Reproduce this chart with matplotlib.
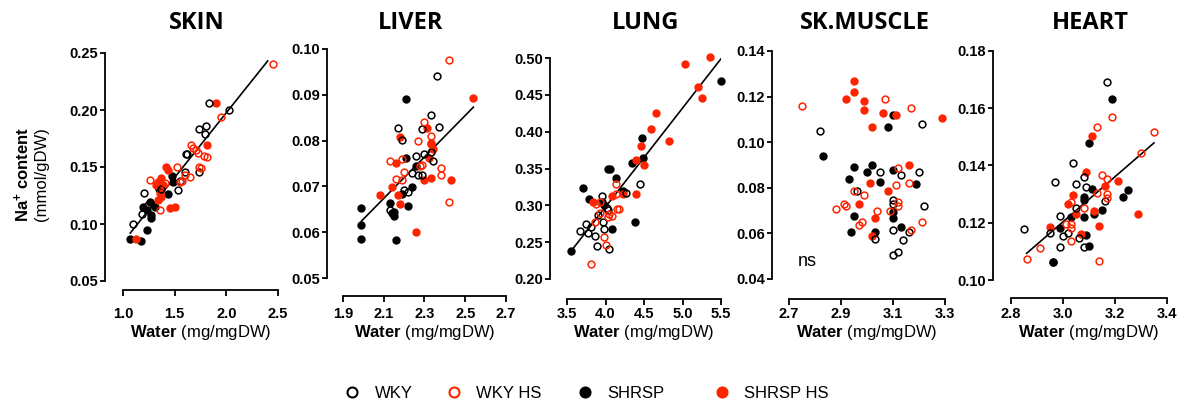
import matplotlib
matplotlib.use("Agg")
import matplotlib.pyplot as plt
from matplotlib.lines import Line2D

plt.rcParams['font.family'] = ['Liberation Sans', 'DejaVu Sans']
plt.rcParams['mathtext.fontset'] = 'custom'
plt.rcParams['mathtext.rm'] = 'Liberation Sans'
plt.rcParams['mathtext.bf'] = 'Liberation Sans:bold'
plt.rcParams['mathtext.it'] = 'Liberation Sans:italic'

RED = '#FF2400'
groups = ['WKY', 'WKY HS', 'SHRSP', 'SHRSP HS']

# ---------------- data ----------------
titles = ['SKIN', 'LIVER', 'LUNG', 'SK.MUSCLE', 'HEART']

skin_wky_x = [1.10, 1.20, 1.18, 1.24, 1.37, 1.53, 1.55, 1.61, 1.62, 1.74, 1.80, 1.79, 1.83, 2.03, 1.74, 1.60]
skin_wky_y = [0.100, 0.127, 0.109, 0.117, 0.131, 0.130, 0.138, 0.161, 0.161, 0.183, 0.186, 0.179, 0.206, 0.200, 0.146, 0.146]
skin_shrsp_x = [1.07, 1.17, 1.23, 1.19, 1.23, 1.26, 1.27, 1.27, 1.31, 1.35, 1.44, 1.47, 1.48]
skin_shrsp_y = [0.087, 0.085, 0.095, 0.115, 0.112, 0.119, 0.108, 0.105, 0.115, 0.131, 0.126, 0.142, 0.137]
skin_wkyhs_x = [1.26, 1.36, 1.41, 1.52, 1.55, 1.57, 1.60, 1.65, 1.66, 1.68, 1.71, 1.73, 1.74, 1.75, 1.78, 1.81, 1.95, 2.45]
skin_wkyhs_y = [0.139, 0.112, 0.136, 0.150, 0.137, 0.138, 0.143, 0.141, 0.169, 0.167, 0.165, 0.162, 0.150, 0.149, 0.160, 0.159, 0.194, 0.240]
skin_shrsphs_x = [1.13, 1.32, 1.34, 1.34, 1.36, 1.37, 1.37, 1.39, 1.42, 1.44, 1.45, 1.50, 1.81, 1.90]
skin_shrsphs_y = [0.087, 0.134, 0.121, 0.137, 0.127, 0.140, 0.124, 0.134, 0.150, 0.147, 0.114, 0.115, 0.169, 0.206]
skin_fit_x = [1.07, 2.40]
skin_fit_y = [0.092, 0.243]

liver_wky_x = [2.17, 2.19, 2.13, 2.20, 2.22, 2.24, 2.26, 2.27, 2.29, 2.29, 2.30, 2.33, 2.33, 2.34, 2.36, 2.37]
liver_wky_y = [0.0828, 0.0802, 0.0648, 0.0693, 0.0687, 0.0730, 0.0767, 0.0724, 0.0825, 0.0724, 0.0770, 0.0776, 0.0856, 0.0755, 0.0940, 0.0830]
liver_shrsp_x = [1.99, 1.99, 1.99, 2.13, 2.14, 2.15, 2.16, 2.21, 2.21, 2.19, 2.22, 2.24, 2.26, 2.15]
liver_shrsp_y = [0.0653, 0.0616, 0.0586, 0.0664, 0.0642, 0.0636, 0.0582, 0.0891, 0.0763, 0.0684, 0.0658, 0.0698, 0.0745, 0.0645]
liver_wkyhs_x = [2.13, 2.16, 2.19, 2.20, 2.19, 2.27, 2.28, 2.29, 2.30, 2.33, 2.33, 2.38, 2.38, 2.42, 2.42]
liver_wkyhs_y = [0.0756, 0.0717, 0.0759, 0.0732, 0.0714, 0.0800, 0.0745, 0.0746, 0.0841, 0.0793, 0.0809, 0.0740, 0.0724, 0.0667, 0.0977]
liver_shrsphs_x = [2.08, 2.14, 2.16, 2.18, 2.17, 2.18, 2.26, 2.30, 2.31, 2.32, 2.33, 2.33, 2.34, 2.43, 2.54]
liver_shrsphs_y = [0.0682, 0.0698, 0.0752, 0.0807, 0.0682, 0.0662, 0.0600, 0.0714, 0.0827, 0.0762, 0.0718, 0.0794, 0.0781, 0.0715, 0.0894]
liver_fit_x = [1.99, 2.54]
liver_fit_y = [0.0624, 0.0873]

lung_wky_x = [3.67, 3.75, 3.77, 3.81, 3.87, 3.89, 3.90, 3.95, 3.97, 3.98, 4.02, 4.03, 4.04, 4.26, 4.45]
lung_wky_y = [0.265, 0.275, 0.262, 0.271, 0.258, 0.245, 0.287, 0.313, 0.278, 0.268, 0.296, 0.294, 0.241, 0.317, 0.329]
lung_shrsp_x = [3.55, 3.71, 3.79, 3.95, 3.98, 4.03, 4.06, 4.08, 4.14, 4.23, 4.35, 4.38, 4.47, 4.49, 5.50]
lung_shrsp_y = [0.238, 0.323, 0.309, 0.305, 0.301, 0.350, 0.349, 0.268, 0.337, 0.320, 0.357, 0.278, 0.392, 0.364, 0.469]
lung_wkyhs_x = [3.81, 3.88, 3.93, 3.98, 4.01, 4.03, 4.05, 4.08, 4.13, 4.14, 4.15, 4.17, 3.87, 3.93]
lung_wkyhs_y = [0.221, 0.302, 0.289, 0.257, 0.246, 0.284, 0.288, 0.286, 0.329, 0.316, 0.295, 0.295, 0.277, 0.305]
lung_shrsphs_x = [3.84, 4.08, 4.23, 4.39, 4.39, 4.46, 4.50, 4.59, 4.66, 4.83, 5.03, 5.20, 5.25, 5.36]
lung_shrsphs_y = [0.304, 0.312, 0.315, 0.362, 0.316, 0.380, 0.355, 0.403, 0.426, 0.387, 0.492, 0.461, 0.446, 0.501]
lung_fit_x = [3.55, 5.50]
lung_fit_y = [0.2375, 0.499]

muscle_wky_x = [2.82, 2.96, 3.05, 3.10, 3.10, 3.13, 3.10, 3.10, 3.12, 3.14, 3.16, 3.03, 3.20, 3.21, 3.22]
muscle_wky_y = [0.105, 0.0788, 0.0868, 0.0747, 0.0728, 0.0856, 0.0616, 0.0506, 0.0518, 0.0569, 0.0608, 0.0576, 0.0868, 0.1079, 0.0718]
muscle_shrsp_x = [2.83, 2.93, 2.95, 2.95, 2.94, 3.00, 3.02, 3.05, 3.03, 3.10, 3.10, 3.10, 3.08, 3.10, 3.13, 3.19]
muscle_shrsp_y = [0.094, 0.0837, 0.089, 0.0678, 0.0608, 0.0869, 0.0899, 0.0827, 0.0608, 0.0878, 0.0667, 0.0692, 0.1068, 0.112, 0.0627, 0.0818]
muscle_wkyhs_x = [2.75, 2.88, 2.91, 2.92, 2.97, 2.98, 2.99, 3.04, 3.07, 3.09, 3.11, 3.12, 3.12, 3.12, 3.16, 3.17, 3.17, 3.21, 2.95]
muscle_wkyhs_y = [0.116, 0.0708, 0.0728, 0.0718, 0.0638, 0.0648, 0.0769, 0.0697, 0.119, 0.0697, 0.0813, 0.0737, 0.0718, 0.0888, 0.082, 0.1151, 0.0616, 0.0648, 0.0788]
muscle_shrsphs_x = [2.92, 2.95, 2.95, 2.99, 2.99, 3.02, 3.06, 3.11, 3.29, 2.97, 3.01, 3.03, 3.02, 3.08, 3.16]
muscle_shrsphs_y = [0.1189, 0.1269, 0.1221, 0.118, 0.114, 0.1068, 0.113, 0.1119, 0.1108, 0.0728, 0.082, 0.0667, 0.0590, 0.0788, 0.090]

heart_wky_x = [2.85, 2.95, 2.96, 2.97, 2.99, 2.99, 3.00, 3.02, 3.04, 3.05, 3.05, 3.06, 3.08, 3.08, 3.09, 3.16, 3.17]
heart_wky_y = [0.1178, 0.1163, 0.1064, 0.1343, 0.1223, 0.1114, 0.1153, 0.1163, 0.1409, 0.1335, 0.1252, 0.1145, 0.1360, 0.1114, 0.1326, 0.1277, 0.1691]
heart_shrsp_x = [2.96, 2.99, 3.03, 3.08, 3.08, 3.08, 3.09, 3.10, 3.10, 3.11, 3.12, 3.15, 3.19, 3.23, 3.25]
heart_shrsp_y = [0.1064, 0.1183, 0.1219, 0.1291, 0.1279, 0.1219, 0.1157, 0.1120, 0.1479, 0.1317, 0.1229, 0.1244, 0.1633, 0.1291, 0.1316]
heart_wkyhs_x = [2.86, 2.91, 3.01, 3.03, 3.03, 3.03, 3.03, 3.08, 3.13, 3.13, 3.14, 3.15, 3.17, 3.17, 3.17, 3.19, 3.30, 3.35]
heart_wkyhs_y = [0.1072, 0.1113, 0.1195, 0.1271, 0.1195, 0.1180, 0.1137, 0.1252, 0.1533, 0.1305, 0.1067, 0.1366, 0.1352, 0.1299, 0.1288, 0.1570, 0.1445, 0.1517]
heart_shrsphs_x = [2.95, 3.02, 3.04, 3.05, 3.07, 3.09, 3.11, 3.12, 3.14, 3.16, 3.21, 3.29]
heart_shrsphs_y = [0.1186, 0.1267, 0.1297, 0.1230, 0.1159, 0.1378, 0.1502, 0.1241, 0.1188, 0.1329, 0.1347, 0.1230]
heart_fit_x = [2.86, 3.35]
heart_fit_y = [0.1093, 0.1479]

x_ticks = [[1.0, 1.5, 2.0, 2.5], [1.9, 2.1, 2.3, 2.5, 2.7], [3.5, 4.0, 4.5, 5.0, 5.5],
           [2.7, 2.9, 3.1, 3.3], [2.8, 3.0, 3.2, 3.4]]
y_ticks = [[0.05, 0.10, 0.15, 0.20, 0.25], [0.05, 0.06, 0.07, 0.08, 0.09, 0.10],
           [0.20, 0.25, 0.30, 0.35, 0.40, 0.45, 0.50], [0.04, 0.06, 0.08, 0.10, 0.12, 0.14],
           [0.10, 0.12, 0.14, 0.16, 0.18]]

panels = [
    (skin_wky_x, skin_wky_y, skin_wkyhs_x, skin_wkyhs_y, skin_shrsp_x, skin_shrsp_y, skin_shrsphs_x, skin_shrsphs_y, skin_fit_x, skin_fit_y),
    (liver_wky_x, liver_wky_y, liver_wkyhs_x, liver_wkyhs_y, liver_shrsp_x, liver_shrsp_y, liver_shrsphs_x, liver_shrsphs_y, liver_fit_x, liver_fit_y),
    (lung_wky_x, lung_wky_y, lung_wkyhs_x, lung_wkyhs_y, lung_shrsp_x, lung_shrsp_y, lung_shrsphs_x, lung_shrsphs_y, lung_fit_x, lung_fit_y),
    (muscle_wky_x, muscle_wky_y, muscle_wkyhs_x, muscle_wkyhs_y, muscle_shrsp_x, muscle_shrsp_y, muscle_shrsphs_x, muscle_shrsphs_y, None, None),
    (heart_wky_x, heart_wky_y, heart_wkyhs_x, heart_wkyhs_y, heart_shrsp_x, heart_shrsp_y, heart_shrsphs_x, heart_shrsphs_y, heart_fit_x, heart_fit_y),
]

# ---------------- layout (pixels) ----------------
W, H = 1192, 408
# plot area: x_left, x_right, y_top, y_bottom ; spine offsets (left, bottom) in px
boxes = [(123, 278, 53, 281, 18, 9),
         (343, 506, 49, 278, 16, 18),
         (567, 721, 58, 279, 17, 20),
         (789, 945, 51, 279, 17, 20),
         (1011, 1167, 51, 280, 18, 18)]
title_x = [197, 411, 646, 865, 1090]
XTICK_LABEL_TOP = 306.5   # px from top
XLABEL_Y = 332            # px from top
TICK_LEN_PX = 5.5

fig = plt.figure(figsize=(W / 100, H / 100), dpi=100)

ms = 4.9
mew = 1.1
for i, (box, data) in enumerate(zip(boxes, panels)):
    xl, xr, yt, yb, offl, offb = box
    ax = fig.add_axes([xl / W, (H - yb) / H, (xr - xl) / W, (yb - yt) / H])
    (wx, wy, whx, why, sx, sy, shx, shy, fx, fy) = data
    if fx is not None:
        ax.plot(fx, fy, color='black', lw=1.2, zorder=2)
    ax.plot(sx, sy, 'o', ms=ms, mfc='black', mec='black', mew=mew, clip_on=False, zorder=3)
    ax.plot(shx, shy, 'o', ms=ms, mfc=RED, mec=RED, mew=mew, clip_on=False, zorder=3)
    ax.plot(wx, wy, 'o', ms=ms, mfc='none', mec='black', mew=mew, clip_on=False, zorder=4)
    ax.plot(whx, why, 'o', ms=ms, mfc='none', mec=RED, mew=mew, clip_on=False, zorder=4)
    xt, yt_ = x_ticks[i], y_ticks[i]
    ax.set_xlim(xt[0], xt[-1])
    ax.set_ylim(yt_[0], yt_[-1])
    ax.set_xticks(xt)
    ax.set_yticks(yt_)
    ax.set_xticklabels([f'{v:.1f}' for v in xt])
    ax.set_yticklabels([f'{v:.2f}' for v in yt_])
    for s in ['top', 'right']:
        ax.spines[s].set_visible(False)
    ax.spines['left'].set_position(('outward', offl * 0.72))
    ax.spines['bottom'].set_position(('outward', offb * 0.72))
    for s in ['left', 'bottom']:
        ax.spines[s].set_linewidth(1.3)
    ax.tick_params(width=1.3, length=TICK_LEN_PX * 0.72, labelsize=10.5)
    ax.tick_params(axis='y', pad=1)
    xpad_px = XTICK_LABEL_TOP - (yb + offb) - TICK_LEN_PX
    ax.tick_params(axis='x', pad=max(xpad_px, 0.5) * 0.72)
    for lab in ax.get_xticklabels() + ax.get_yticklabels():
        lab.set_fontweight('bold')
    ax.patch.set_visible(False)
    fig.text((xl + xr) / 2 / W, 1 - XLABEL_Y / H, r'$\mathbf{Water}$ (mg/mgDW)',
             fontsize=12, ha='center', va='center')
    fig.text(title_x[i] / W, 1 - 23 / H, titles[i], fontsize=17, fontweight='bold',
             family=['Open Sans', 'DejaVu Sans'], ha='center', va='center')
    if i == 3:
        ax.text(2.77, 0.0475, 'ns', fontsize=13, ha='center', va='center')

# y label
fig.text(22 / W, 1 - 174 / H, 'Na$^{\\mathbf{+}}$ content', rotation=90, fontsize=12,
         fontweight='bold', ha='center', va='center')
fig.text(41 / W, 1 - 174 / H, '(mmol/gDW)', rotation=90, fontsize=12,
         ha='center', va='center')

# legend: one entry per legend so each sits where it does in the reference
styles = [dict(mfc='none', mec='black'), dict(mfc='none', mec=RED),
          dict(mfc='black', mec='black'), dict(mfc=RED, mec=RED)]
legend_marker_x = [352, 454, 585, 722]
handle_px = 12 * 100 / 72 * 1.0   # handlelength 1.0 at 12 pt
for name, st, mx in zip(groups, styles, legend_marker_x):
    h = Line2D([], [], ls='none', marker='o', ms=7.2, mew=1.5, **st)
    fig.legend([h], [name], loc='center left',
               bbox_to_anchor=((mx - handle_px / 2) / W, 15 / H),
               frameon=False, fontsize=12, handlelength=1.0, handletextpad=0.85,
               borderpad=0, borderaxespad=0)

fig.savefig('out.png', dpi=100)
